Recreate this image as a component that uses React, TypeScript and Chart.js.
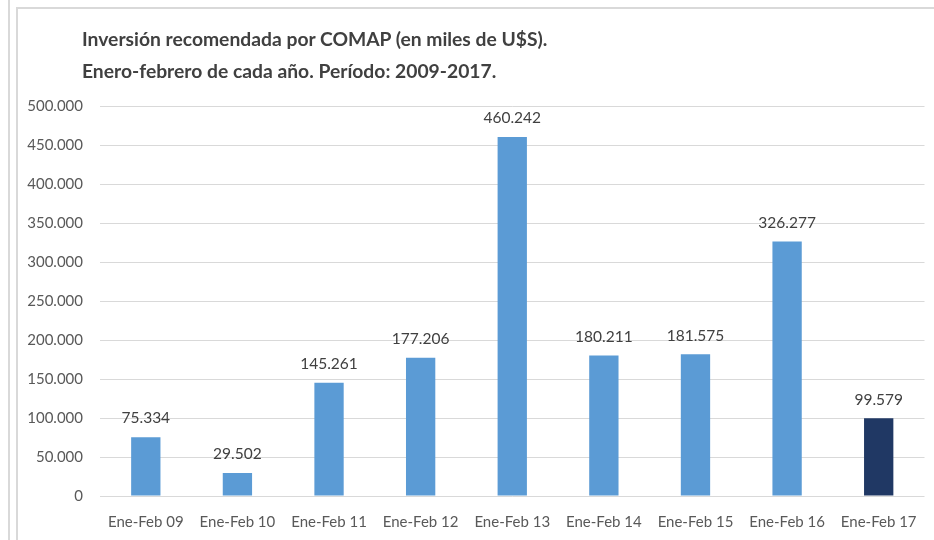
import React, { useEffect, useRef } from "react";
import { Chart, registerables } from "chart.js";

Chart.register(...registerables);

const categories = [
  "Ene-Feb 09",
  "Ene-Feb 10",
  "Ene-Feb 11",
  "Ene-Feb 12",
  "Ene-Feb 13",
  "Ene-Feb 14",
  "Ene-Feb 15",
  "Ene-Feb 16",
  "Ene-Feb 17",
];
const values = [75334, 29502, 145261, 177206, 460242, 180211, 181575, 326277, 99579];
const barColors = [
  "#5B9BD5", "#5B9BD5", "#5B9BD5", "#5B9BD5", "#5B9BD5",
  "#5B9BD5", "#5B9BD5", "#5B9BD5", "#203864",
];
const titleLines = [
  "Inversión recomendada por COMAP (en miles de U$S).",
  "Enero-febrero de cada año. Período: 2009-2017.",
];
const yMin = 0;
const yMax = 500000;
const yStep = 50000;

const FONT = "Lato, 'Open Sans', sans-serif";

function fmt(n: number): string {
  const s = Math.round(n).toString();
  return s.replace(/\B(?=(\d{3})+(?!\d))/g, ".");
}

const valueLabels = {
  id: "valueLabels",
  afterDatasetsDraw(chart: any) {
    const ctx = chart.ctx;
    const meta = chart.getDatasetMeta(0);
    ctx.save();
    ctx.font = `15.5px ${FONT}`;
    ctx.fillStyle = "#404040";
    ctx.textAlign = "center";
    ctx.textBaseline = "bottom";
    meta.data.forEach((bar: any, i: number) => {
      const v = chart.data.datasets[0].data[i] as number;
      ctx.fillText(fmt(v), bar.x, bar.y - 11);
    });
    ctx.restore();
  },
};

export default function App() {
  const ref = useRef<HTMLCanvasElement | null>(null);

  useEffect(() => {
    if (!ref.current) return;
    const chart = new Chart(ref.current, {
      type: "bar",
      data: {
        labels: categories,
        datasets: [
          {
            data: values,
            backgroundColor: barColors,
            borderWidth: 0,
            categoryPercentage: 1,
            barPercentage: 0.32,
          },
        ],
      },
      options: {
        animation: false,
        responsive: false,
        maintainAspectRatio: false,
        layout: { padding: { left: 0, right: 8, top: 106, bottom: 0 } },
        plugins: {
          legend: { display: false },
          tooltip: { enabled: false },
          title: { display: false },
        },
        scales: {
          x: {
            grid: { display: false, drawTicks: false },
            border: { display: false },
            ticks: {
              color: "#595959",
              font: { family: FONT, size: 15 },
              padding: 17,
              maxRotation: 0,
              autoSkip: false,
            },
            afterFit(scale: any) {
              scale.height = 44;
            },
          },
          y: {
            min: yMin,
            max: yMax,
            grid: { color: "#D9D9D9", drawTicks: false, lineWidth: 1 },
            border: { display: false },
            ticks: {
              stepSize: yStep,
              color: "#595959",
              font: { family: FONT, size: 15 },
              padding: 17,
              callback: (v: any) => fmt(Number(v)),
            },
            afterFit(scale: any) {
              scale.width = 100;
            },
          },
        },
      },
      plugins: [valueLabels],
    });
    return () => chart.destroy();
  }, []);

  return (
    <div
      style={{
        position: "fixed",
        left: 0,
        top: 0,
        width: 934,
        height: 540,
        background: "#FFFFFF",
        overflow: "hidden",
      }}
    >
      <div
        style={{
          position: "absolute",
          left: 8,
          top: 0,
          width: 2,
          height: 540,
          background: "#D9D9D9",
        }}
      />
      <div
        style={{
          position: "absolute",
          left: 16,
          top: 7,
          width: 940,
          height: 560,
          borderLeft: "2px solid #D9D9D9",
          borderTop: "2px solid #D9D9D9",
        }}
      />
      <canvas
        ref={ref}
        width={934}
        height={540}
        style={{ position: "absolute", left: 0, top: 0, width: 934, height: 540 }}
      />
      <div
        style={{
          position: "absolute",
          left: 82,
          top: 23,
          fontFamily: FONT,
          fontWeight: 700,
          fontSize: 19.3,
          lineHeight: "32px",
          color: "#404040",
          whiteSpace: "nowrap",
        }}
      >
        {titleLines.map((t, i) => (
          <div key={i}>{t}</div>
        ))}
      </div>
    </div>
  );
}
